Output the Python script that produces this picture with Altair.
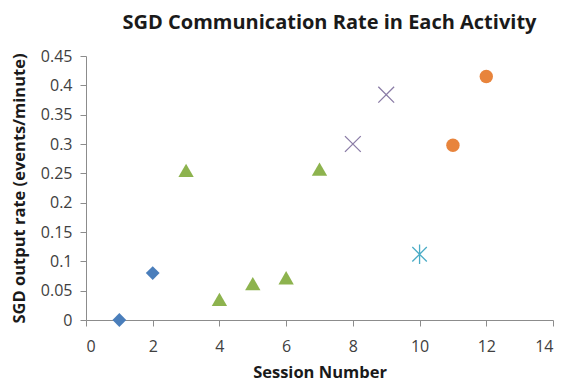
import altair as alt
import pandas as pd

sessions = [1, 2, 3, 4, 5, 6, 7, 8, 9, 10, 11, 12]
rates = [0.0, 0.08, 0.255, 0.035, 0.062, 0.072, 0.257, 0.30, 0.384, 0.112, 0.298, 0.415]
groups = ["A", "A", "B", "B", "B", "B", "B", "C", "C", "D", "E", "E"]
x_ticks = [0, 2, 4, 6, 8, 10, 12, 14]
y_ticks = [0, 0.05, 0.1, 0.15, 0.2, 0.25, 0.3, 0.35, 0.4, 0.45]

df = pd.DataFrame({"session": sessions, "rate": rates, "group": groups})

FONT = "Open Sans"
xs = alt.Scale(domain=[0, 14], nice=False)
ys = alt.Scale(domain=[0, 0.45], nice=False)

X = alt.X("session:Q", scale=xs, title="Session Number",
          axis=alt.Axis(values=x_ticks, format="~g"))
Y = alt.Y("rate:Q", scale=ys, title="SGD output rate (events/minute)",
          axis=alt.Axis(values=y_ticks, format="~g"))

base = alt.Chart(df).encode(x=X, y=Y)

styles = {
    "A": dict(shape="diamond", filled=True, color="#4A7EBB", size=190),
    "B": dict(shape="triangle-up", filled=True, color="#8DB34E", size=235),
    "C": dict(shape="M-1,-1L1,1M-1,1L1,-1", filled=False, color="#8A7CA6", size=250, strokeWidth=1.3),
    "D": dict(shape="M-1,-1L1,1M-1,1L1,-1M0,-1.35L0,1.35", filled=False, color="#4BACC6", size=210, strokeWidth=1.3),
    "E": dict(shape="circle", filled=True, color="#E8843C", size=180),
}

layers = []
for g, st in styles.items():
    kw = dict(st)
    kw["opacity"] = 1
    if kw["filled"]:
        kw["strokeWidth"] = 0
    layers.append(base.transform_filter(alt.datum.group == g).mark_point(**kw))

chart = alt.layer(*layers).properties(
    width=467, height=264,
    title=alt.TitleParams("SGD Communication Rate in Each Activity", fontSize=20,
                          fontWeight="bold", font=FONT, color="#1a1a1a", dx=10, offset=15),
    autosize=alt.AutoSizeParams(type="none"),
    padding={"left": 78, "top": 48, "right": 8, "bottom": 62},
).configure_view(stroke=None).configure_axis(
    grid=False, domainColor="#8c8c8c", tickColor="#8c8c8c", tickSize=6,
    labelFont=FONT, labelFontSize=16, labelColor="#404040",
    titleFont=FONT, titleFontSize=16.5, titleFontWeight="bold", titleColor="#1a1a1a",
).configure_axisX(labelPadding=12, titlePadding=10).configure_axisY(labelPadding=8, titlePadding=13)

chart.save("out.html", embed_options={"renderer": "svg", "actions": False})
